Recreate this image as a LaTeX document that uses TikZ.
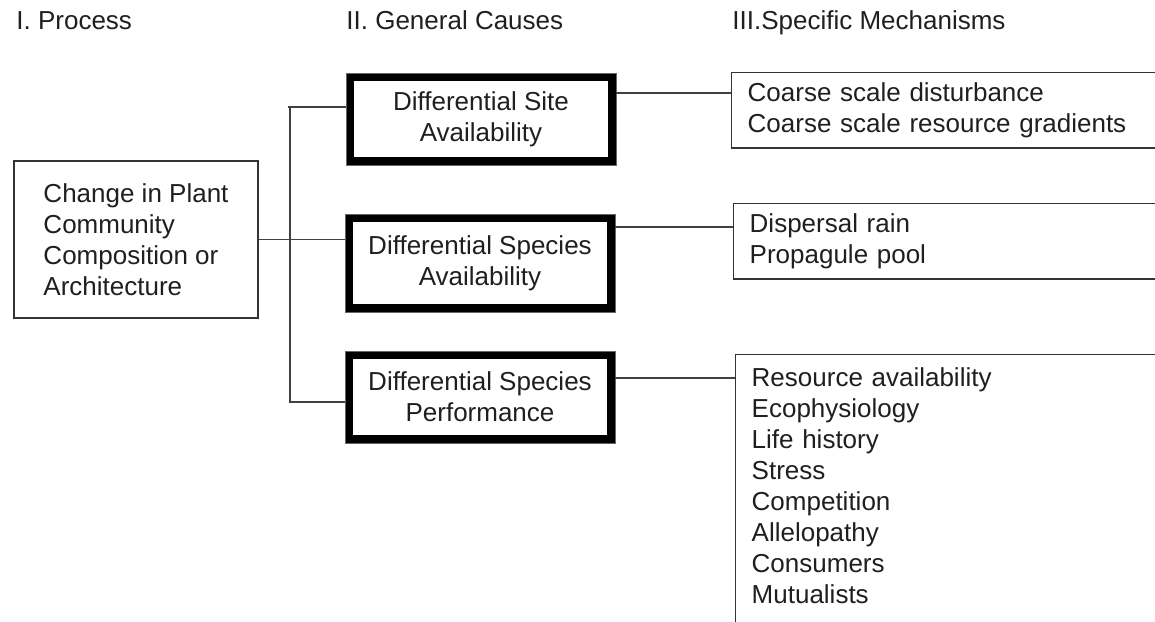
\documentclass[tikz,border=0pt]{standalone}
\usepackage{fontspec}
\setmainfont{Liberation Sans}
\begin{document}
\begin{tikzpicture}[x=0.5pt,y=-0.5pt,
  every node/.style={font=\fontsize{13pt}{15.5pt}\selectfont, text=black!88},
  header/.style={anchor=base west, inner sep=0pt},
  plainbox/.style={draw=black!80, line width=0.7pt},
  cause/.style={draw=black, line width=4pt, minimum width=131pt, align=center, inner sep=0pt},
  rim/.style={draw=black!60, line width=0.5pt},
  mech/.style={plainbox, anchor=north west, align=left, inner xsep=8pt, inner ysep=5pt, text width=210pt},
  link/.style={draw=black!75, line width=0.6pt}
]
\useasboundingbox (0,0) rectangle (1155,621);

% column headings
\node[header] (h1) at (16,29) {I. Process};
\node[header] (h2) at (346,29) {II. General Causes};
\node[header] (h3) at (732,29) {III.Specific Mechanisms};

% process
\node[plainbox, minimum width=122pt, minimum height=78.5pt, align=left] (chg) at (136,239.5)
  {Change in Plant\\Community\\Composition or\\Architecture};

% general causes
\node[cause, minimum height=42pt] (b1) at (481,119) {Differential Site\\Availability};
\node[cause, minimum height=45pt] (b2) at (480,263) {Differential Species\\Availability};
\node[cause, minimum height=42pt] (b3) at (480,397) {Differential Species\\Performance};
\foreach \b in {b1,b2,b3} \draw[rim] (\b.north west) rectangle (\b.south east);

% specific mechanisms
\node[mech, minimum height=37.5pt] (m1) at (731,72)
  {Coarse scale disturbance\\Coarse scale resource gradients};
\node[mech, minimum height=37pt] (m2) at (733,203)
  {Dispersal rain\\Propagule pool};
\node[mech, inner ysep=6.5pt, text depth=130pt] (m3) at (735,354)
  {Resource availability\\Ecophysiology\\Life history\\Stress\\Competition\\Allelopathy\\Consumers\\Mutualists};

% bracket joining the process to the causes
\coordinate (j1) at (290,107);
\coordinate (j3) at (290,402);
\draw[link] ([xshift=-1pt]j1) -- (j1 -| b1.west);
\draw[link] (j1) -- (j3) -- (j3 -| b3.west);
\draw[link] (chg.east) -- (chg.east -| b2.west);

% causes to mechanisms
\coordinate (r1) at (0,93);
\coordinate (r2) at (0,227);
\coordinate (r3) at (0,378);
\draw[link] (r1 -| b1.east) -- (r1 -| m1.west);
\draw[link] (r2 -| b2.east) -- (r2 -| m2.west);
\draw[link] (r3 -| b3.east) -- (r3 -| m3.west);
\end{tikzpicture}
\end{document}
